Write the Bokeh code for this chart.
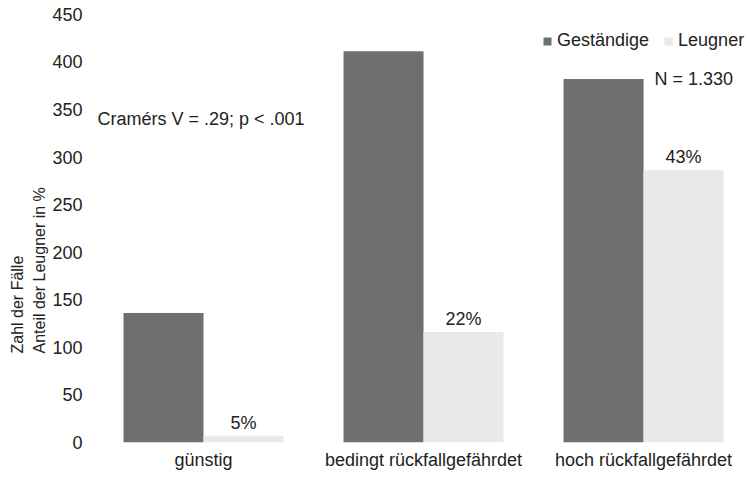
import numpy as np
from bokeh.plotting import figure
from bokeh.models import (ColumnDataSource, Range1d, FixedTicker, Label, LabelSet,
                          Legend, LegendItem, Title)
from bokeh.core.properties import value
from bokeh.embed import file_html
from bokeh.resources import INLINE

categories = ["günstig", "bedingt rückfallgefährdet", "hoch rückfallgefährdet"]
gestaendige = [136, 411, 382]
leugner = [7, 116, 286]
leugner_pct = ["5%", "22%", "43%"]
y_ticks = [0, 50, 100, 150, 200, 250, 300, 350, 400, 450]

FONT = "Liberation Sans"
TXT = "#222222"
DARK = "#6f6f6f"
LIGHT = "#e9e9e9"

x = np.arange(len(categories))
bw = 80 / 220
src = ColumnDataSource(dict(
    xg=x - bw / 2, xl=x + bw / 2,
    g=gestaendige, l=leugner, pct=leugner_pct,
))

p = figure(width=750, height=477, output_backend="svg", toolbar_location=None,
           x_range=Range1d(-0.5, 2.486), y_range=Range1d(0, 455),
           min_border_left=93, min_border_right=0, min_border_top=9,
           min_border_bottom=35)
p.outline_line_color = None
p.background_fill_color = "white"
p.xgrid.grid_line_color = None
p.ygrid.grid_line_color = None

rg = p.vbar(x="xg", top="g", width=bw, source=src, fill_color=DARK, line_color=None)
rl = p.vbar(x="xl", top="l", width=bw, source=src, fill_color=LIGHT, line_color=None)

# axes
p.yaxis.ticker = FixedTicker(ticks=y_ticks)
p.xaxis.ticker = FixedTicker(ticks=list(x))
p.xaxis.major_label_overrides = {int(i): c for i, c in zip(x, categories)}
for ax in (p.xaxis[0], p.yaxis[0]):
    ax.axis_line_color = None
    ax.major_tick_line_color = None
    ax.minor_tick_line_color = None
    ax.major_tick_out = 0
    ax.major_tick_in = 0
    ax.minor_tick_out = 0
    ax.minor_tick_in = 0
    ax.major_label_text_font = FONT
    ax.major_label_text_font_size = "18px"
    ax.major_label_text_color = TXT
p.yaxis.major_label_standoff = 11
p.xaxis.major_label_standoff = 7

# y-axis title (two rotated lines, bottom-aligned)
for txt, so in (("Anteil der Leugner in %", 4), ("Zahl der Fälle", 1)):
    p.add_layout(Title(text=txt, align="left", offset=89, standoff=so,
                       text_font=FONT, text_font_size="16px",
                       text_font_style="normal", text_color=TXT), "left")

# percentages above Leugner bars
p.add_layout(LabelSet(x="xl", y="l", text="pct", source=src, y_offset=7,
                      text_align="center", text_baseline="alphabetic",
                      text_font=value(FONT), text_font_size=value("18px"),
                      text_color=TXT))

p.add_layout(Label(x=-0.4818, y=340, text="Cramérs V = .29; p < .001",
                   text_align="left", text_baseline="alphabetic",
                   text_font=FONT, text_font_size="18px", text_color=TXT))
p.add_layout(Label(x=2.05, y=382, text="N = 1.330",
                   text_align="left", text_baseline="alphabetic",
                   text_font=FONT, text_font_size="18px", text_color=TXT))

legend = Legend(items=[LegendItem(label="Geständige", renderers=[rg]),
                       LegendItem(label="Leugner", renderers=[rl])],
                orientation="horizontal", location=(449, 391),
                padding=0, margin=0, spacing=14, label_standoff=5,
                glyph_width=10, glyph_height=10, label_height=10,
                border_line_color=None, background_fill_alpha=0,
                label_text_font=FONT, label_text_font_size="18px",
                label_text_color=TXT)
p.add_layout(legend)

open("out.html", "w").write(file_html(p, INLINE))
